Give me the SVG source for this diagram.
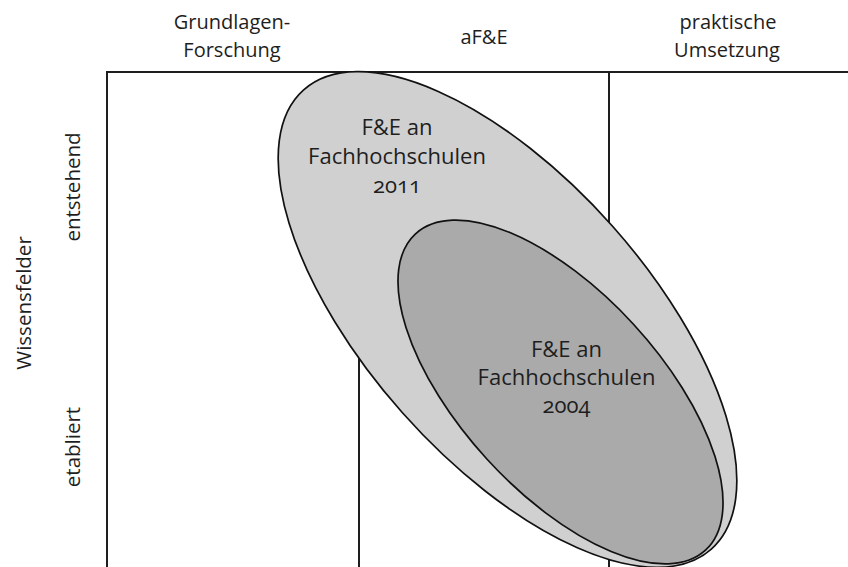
<svg xmlns="http://www.w3.org/2000/svg" width="848" height="567" viewBox="0 0 848 567">
<style>
text{font-family:"Open Sans","Noto Sans","Liberation Sans",sans-serif;fill:#1e1e1e;text-anchor:middle;font-variant-numeric:oldstyle-nums}
.h{font-size:20px}
.s{font-size:20.5px}
.e{font-size:22px}
.frame{stroke:#1e1e1e;stroke-width:2;fill:none}
.ell{stroke:#111;stroke-width:1.7}
</style>
<rect width="848" height="567" fill="#fff"/>
<g id="frame">
<line class="frame" x1="107" y1="72" x2="848" y2="72"/>
<line class="frame" x1="107" y1="71" x2="107" y2="567"/>
<line class="frame" x1="359" y1="71" x2="359" y2="567"/>
<line class="frame" x1="609" y1="71" x2="609" y2="567"/>
</g>
<g id="headers">
<text class="h" x="232" y="29">Grundlagen-</text>
<text class="h" x="232" y="57">Forschung</text>
<text class="h" x="484" y="44">aF&amp;E</text>
<text class="h" x="728" y="29">praktische</text>
<text class="h" x="727" y="57">Umsetzung</text>
<text class="s" transform="translate(31,303) rotate(-90)">Wissensfelder</text>
<text class="s" transform="translate(80,187) rotate(-90)">entstehend</text>
<text class="s" transform="translate(80,447) rotate(-90)">etabliert</text>
</g>
<g id="fh2011">
<ellipse class="ell" fill="#d0d0d0" cx="507.5" cy="319.5" rx="307" ry="140.5" transform="rotate(48.4 507.5 319.5)"/>
<text class="e" x="397" y="135">F&amp;E an</text>
<text class="e" x="397" y="164">Fachhochschulen</text>
<text class="e" x="397" y="193">2011</text>
</g>
<g id="fh2004">
<ellipse class="ell" fill="#aaaaaa" cx="560.5" cy="392" rx="214.6" ry="99.6" transform="rotate(47.5 560.5 392)"/>
<text class="e" x="566.5" y="357">F&amp;E an</text>
<text class="e" x="566.5" y="385">Fachhochschulen</text>
<text class="e" x="566.5" y="413">2004</text>
</g>
<g id="connectors"></g>
</svg>
